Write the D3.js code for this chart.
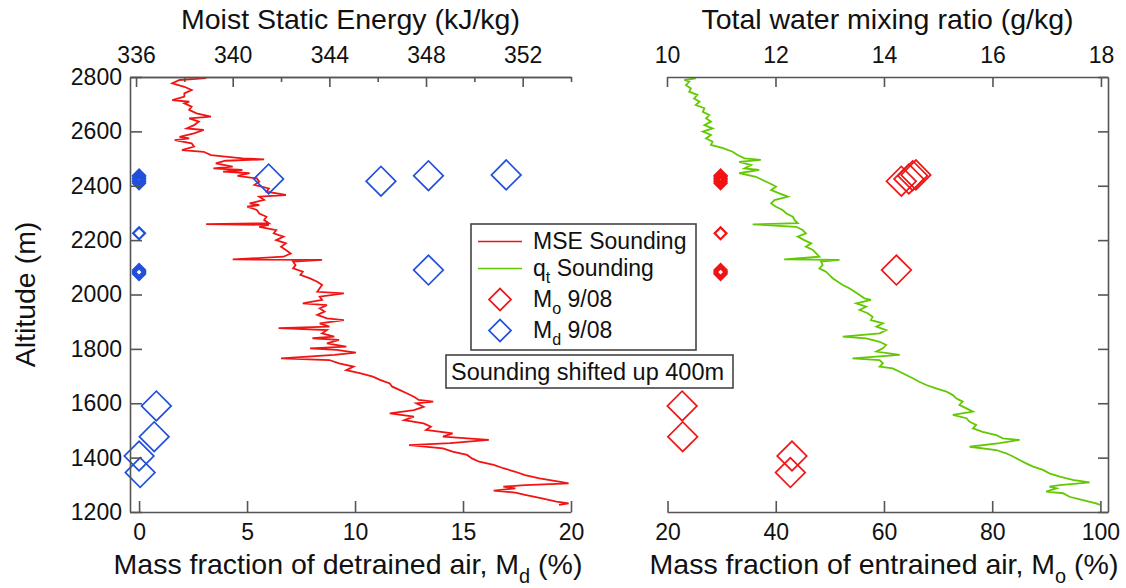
<!DOCTYPE html>
<html>
<head>
<meta charset="utf-8">
<script src="https://cdn.jsdelivr.net/npm/d3@7"></script>
<style>
  body { margin: 0; background: #fff; }
  svg { display: block; font-family: "Liberation Sans", Arial, Helvetica, sans-serif; }
</style>
</head>
<body>
<svg id="chart" width="1126" height="588"></svg>
<script>
// tick values
const altTicks = [1200, 1400, 1600, 1800, 2000, 2200, 2400, 2600, 2800];
const mseTicks = [336, 340, 344, 348, 352];
const mseMinorTicks = [338, 342, 346, 350, 354];
const mdTicks = [0, 5, 10, 15, 20];
const qtTicks = [10, 12, 14, 16, 18];
const moTicks = [20, 40, 60, 80, 100];

// aircraft points, 9/08 (big markers)
const bigAlt = [2425, 2417, 2437, 2440, 2090, 1590, 1477, 1406, 1345];
const bigMd = [6.0, 11.2, 13.4, 17.0, 13.4, 0.8, 0.7, 0.0, 0.05];
const bigMo = [64.6, 63.2, 65.3, 65.9, 62.3, 22.7, 22.8, 43.0, 42.7];

// small markers
const smallAlt = [2409, 2415, 2421, 2427, 2433, 2438, 2225, 2075, 2080, 2085, 2090];
const smallMd = [0, 0, 0, 0, 0, 0, 0, 0, 0, 0, 0];
const smallMo = [29.8, 29.8, 29.8, 29.8, 29.8, 29.8, 29.8, 29.8, 29.8, 29.8, 29.8];

// soundings [altitude m, value], shifted up 400m
const mseSounding = [
  [2800,338.4],[2796,338.9],[2789,337.8],[2777,337.5],[2764,338.0],[2752,338.3],[2740,338.0],[2728,338.0],
  [2715,337.5],[2709,338.2],[2703,338.0],[2691,338.3],[2679,338.2],[2666,338.5],[2654,339.1],[2648,338.2],
  [2636,338.6],[2623,338.4],[2611,338.1],[2605,338.8],[2593,338.4],[2580,337.8],[2574,338.2],[2568,337.6],
  [2556,338.3],[2544,338.4],[2531,337.9],[2525,338.8],[2513,339.1],[2501,340.4],[2497,341.3],[2492,339.7],
  [2482,339.3],[2470,340.0],[2464,339.2],[2458,340.4],[2452,339.6],[2446,340.7],[2436,340.2],[2427,341.0],
  [2415,341.1],[2403,340.9],[2390,341.5],[2378,341.4],[2366,342.2],[2360,341.1],[2348,341.3],[2335,340.7],
  [2329,341.1],[2323,340.6],[2311,341.0],[2298,341.1],[2286,341.4],[2274,341.3],[2262,341.5],[2259,338.9],
  [2256,341.5],[2249,341.1],[2237,341.8],[2225,341.7],[2213,342.1],[2200,341.8],[2188,342.2],[2176,342.0],
  [2164,342.2],[2151,342.4],[2139,342.1],[2129,340.0],[2127,343.7],[2121,342.5],[2108,342.6],[2096,342.5],
  [2084,342.9],[2072,342.8],[2059,343.2],[2047,343.5],[2035,343.7],[2023,343.6],[2010,343.5],[2004,344.6],
  [1992,343.6],[1980,343.7],[1967,342.9],[1961,343.9],[1949,343.6],[1937,343.8],[1925,343.5],[1912,343.9],
  [1906,344.6],[1894,343.6],[1882,344.0],[1876,341.9],[1869,343.9],[1857,343.7],[1845,344.2],[1839,343.3],
  [1833,344.4],[1820,343.9],[1808,344.7],[1802,343.2],[1796,344.3],[1786,345.1],[1778,344.2],[1765,342.0],
  [1759,344.0],[1747,344.4],[1735,345.0],[1722,344.7],[1710,345.3],[1698,345.8],[1686,346.1],[1673,346.5],
  [1661,346.6],[1649,346.9],[1637,347.2],[1624,347.5],[1612,347.7],[1606,348.3],[1600,347.6],[1587,347.9],
  [1575,347.5],[1563,346.5],[1551,347.5],[1538,347.1],[1526,347.9],[1514,348.2],[1502,348.0],[1489,349.1],
  [1477,348.7],[1465,350.6],[1453,349.0],[1446,347.3],[1434,348.7],[1422,349.1],[1410,349.7],[1397,349.9],
  [1385,350.2],[1373,350.8],[1361,351.2],[1348,351.7],[1336,352.1],[1324,352.7],[1312,353.5],[1305,353.9],
  [1299,352.1],[1293,351.2],[1287,351.7],[1279,350.8],[1271,351.7],[1263,352.1],[1250,352.8],[1238,353.4],
  [1232,353.9],[1226,353.5]
];

const qtSounding = [
  [2800,10.41],[2795,10.53],[2789,10.32],[2783,10.41],[2770,10.35],[2758,10.44],[2746,10.41],[2734,10.56],
  [2721,10.50],[2709,10.60],[2697,10.53],[2685,10.69],[2672,10.66],[2660,10.78],[2648,10.72],[2636,10.81],
  [2623,10.69],[2611,10.84],[2599,10.66],[2587,10.81],[2574,10.72],[2562,10.84],[2550,10.81],[2538,11.03],
  [2525,11.21],[2513,11.30],[2501,11.43],[2495,11.73],[2488,11.33],[2476,11.55],[2464,11.43],[2458,11.70],
  [2446,11.33],[2433,11.64],[2421,11.76],[2409,11.89],[2397,12.01],[2384,11.92],[2372,12.07],[2360,12.23],
  [2347,11.98],[2335,11.92],[2323,12.01],[2311,12.13],[2298,12.20],[2286,12.32],[2274,12.35],[2262,12.41],
  [2258,11.58],[2249,12.38],[2237,12.50],[2225,12.56],[2213,12.41],[2200,12.53],[2188,12.66],[2176,12.56],
  [2164,12.69],[2151,12.75],[2139,12.81],[2129,12.16],[2127,13.18],[2121,12.84],[2108,12.87],[2096,12.81],
  [2084,12.93],[2072,12.99],[2059,13.06],[2047,13.15],[2035,13.24],[2023,13.36],[2010,13.46],[1998,13.55],
  [1986,13.64],[1980,13.76],[1967,13.49],[1955,13.67],[1943,13.55],[1931,13.70],[1918,13.79],[1906,13.76],
  [1894,13.98],[1882,13.86],[1869,14.04],[1857,13.92],[1845,13.24],[1839,13.67],[1826,13.92],[1814,14.04],
  [1802,13.98],[1790,13.86],[1778,14.29],[1765,13.42],[1759,13.92],[1747,13.98],[1735,13.92],[1728,14.16],
  [1716,14.29],[1704,14.41],[1692,14.53],[1679,14.65],[1667,14.78],[1655,14.96],[1643,15.15],[1630,15.27],
  [1618,15.33],[1606,15.45],[1594,15.39],[1581,15.52],[1569,15.64],[1557,15.27],[1545,15.52],[1532,15.58],
  [1520,15.70],[1508,15.64],[1495,15.82],[1483,16.07],[1471,16.19],[1465,16.50],[1453,16.13],[1440,15.58],
  [1428,16.07],[1416,16.25],[1404,16.38],[1391,16.50],[1379,16.62],[1367,16.75],[1355,16.93],[1342,17.05],
  [1330,17.24],[1318,17.48],[1309,17.79],[1299,17.24],[1293,17.05],[1287,17.18],[1275,16.99],[1269,17.30],
  [1256,17.42],[1244,17.67],[1232,17.91],[1226,17.98]
];

const red = '#f01414';
const green = '#62c800';
const blue = '#2050dc';
const axisColor = '#555';

const svg = d3.select('#chart');
const plotTop = 77, plotBottom = 512;
const leftX0 = 130, leftX1 = 571, rightX0 = 667, rightX1 = 1108;

const y = d3.scaleLinear().domain([1200, 2800]).range([plotBottom, plotTop]);
const xMd = d3.scaleLinear().domain([-0.42, 20]).range([leftX0, leftX1]);
const xMse = d3.scaleLinear().domain([335.75, 354]).range([leftX0, leftX1]);
const xMo = d3.scaleLinear().domain([19.9, 101.4]).range([rightX0, rightX1]);
const xQt = d3.scaleLinear().domain([10, 18.13]).range([rightX0, rightX1]);

function styleAxis(g) {
  g.attr('font-family', null).attr('font-size', null);
  g.select('.domain').attr('stroke', axisColor).attr('stroke-width', 1.6);
  g.selectAll('.tick line').attr('stroke', axisColor).attr('stroke-width', 1.6);
  g.selectAll('.tick text').attr('fill', '#111').style('font-size', '23px');
}

// text with subscripts; shifts are in px so they cancel out exactly
function addParts(t, parts, fontSize) {
  const shift = fontSize * 0.3;
  let lowered = false;
  parts.forEach(p => {
    if (p.sub) {
      t.append('tspan').text(p.sub)
        .style('font-size', (fontSize * 0.7) + 'px')
        .attr('dy', shift);
      lowered = true;
    } else {
      const s = t.append('tspan').text(p.text);
      if (lowered) { s.attr('dy', -shift); lowered = false; }
    }
  });
}

// clip areas
const defs = svg.append('defs');
defs.append('clipPath').attr('id', 'clipLeft').append('rect')
  .attr('x', leftX0).attr('y', plotTop).attr('width', leftX1 - leftX0).attr('height', plotBottom - plotTop);
defs.append('clipPath').attr('id', 'clipRight').append('rect')
  .attr('x', rightX0).attr('y', plotTop).attr('width', rightX1 - rightX0).attr('height', plotBottom - plotTop);

// soundings
svg.append('path')
  .datum(mseSounding)
  .attr('clip-path', 'url(#clipLeft)')
  .attr('fill', 'none')
  .attr('stroke', red)
  .attr('stroke-width', 1.8)
  .attr('d', d3.line().x(d => xMse(d[1])).y(d => y(d[0])));

svg.append('path')
  .datum(qtSounding)
  .attr('clip-path', 'url(#clipRight)')
  .attr('fill', 'none')
  .attr('stroke', green)
  .attr('stroke-width', 1.8)
  .attr('d', d3.line().x(d => xQt(d[1])).y(d => y(d[0])));

// diamonds = squares turned 45 deg
const bigDiamond = d3.symbol().type(d3.symbolSquare).size(438)();
const smallDiamond = d3.symbol().type(d3.symbolSquare).size(70)();
const legendDiamond = d3.symbol().type(d3.symbolSquare).size(242)();

function drawMarkers(alts, vals, xScale, path, color, width) {
  svg.append('g').selectAll('path')
    .data(alts)
    .join('path')
    .attr('d', path)
    .attr('transform', (d, i) => `translate(${xScale(vals[i])},${y(d)}) rotate(45)`)
    .attr('fill', 'none')
    .attr('stroke', color)
    .attr('stroke-width', width);
}

drawMarkers(bigAlt, bigMd, xMd, bigDiamond, blue, 1.7);
drawMarkers(smallAlt, smallMd, xMd, smallDiamond, blue, 2.2);
drawMarkers(bigAlt, bigMo, xMo, bigDiamond, red, 1.7);
drawMarkers(smallAlt, smallMo, xMo, smallDiamond, red, 2.2);

// axes
svg.append('g').attr('transform', `translate(${leftX0},0)`)
  .call(d3.axisLeft(y).tickValues(altTicks).tickSizeInner(-12).tickSizeOuter(0).tickPadding(8).tickFormat(d3.format('d')))
  .call(styleAxis);
svg.append('g').attr('transform', `translate(${rightX1},0)`)
  .call(d3.axisRight(y).tickValues(altTicks).tickSizeInner(-10).tickSizeOuter(0).tickFormat(''))
  .call(styleAxis);

svg.append('g').attr('transform', `translate(0,${plotTop})`)
  .call(d3.axisTop(xMse).tickValues(mseMinorTicks).tickSizeInner(-5).tickSizeOuter(0).tickFormat(''))
  .call(styleAxis);
svg.append('g').attr('transform', `translate(0,${plotTop})`)
  .call(d3.axisTop(xMse).tickValues(mseTicks).tickSizeInner(-10).tickSizeOuter(0).tickPadding(14))
  .call(styleAxis);
svg.append('g').attr('transform', `translate(0,${plotBottom})`)
  .call(d3.axisBottom(xMd).tickValues(mdTicks).tickSizeInner(-11).tickSizeOuter(0).tickPadding(12))
  .call(styleAxis);

svg.append('g').attr('transform', `translate(0,${plotTop})`)
  .call(d3.axisTop(xQt).tickValues(qtTicks).tickSizeInner(-10).tickSizeOuter(0).tickPadding(14))
  .call(styleAxis);
svg.append('g').attr('transform', `translate(0,${plotBottom})`)
  .call(d3.axisBottom(xMo).tickValues(moTicks).tickSizeInner(-11).tickSizeOuter(0).tickPadding(12))
  .call(styleAxis);

// titles
function title(x, yPos, parts, rotate) {
  const fs = 28.5;
  const t = svg.append('text')
    .attr('text-anchor', 'middle')
    .attr('fill', '#111')
    .style('font-size', fs + 'px');
  if (rotate) t.attr('transform', `translate(${x},${yPos}) rotate(-90)`);
  else t.attr('x', x).attr('y', yPos);
  addParts(t, parts, fs);
  return t;
}

title((leftX0 + leftX1) / 2, 29, [{ text: 'Moist Static Energy (kJ/kg)' }]);
title((rightX0 + rightX1) / 2, 29, [{ text: 'Total water mixing ratio (g/kg)' }]);
title(348, 574, [{ text: 'Mass fraction of detrained air, M' }, { sub: 'd' }, { text: '\u00a0(%)' }]);
title(884, 574, [{ text: 'Mass fraction of entrained air, M' }, { sub: 'o' }, { text: '\u00a0(%)' }]);
title(35, (plotTop + plotBottom) / 2, [{ text: 'Altitude (m)' }], true);

// legend
const legendItems = [
  { kind: 'line', color: red, parts: [{ text: 'MSE Sounding' }] },
  { kind: 'line', color: green, parts: [{ text: 'q' }, { sub: 't' }, { text: '\u00a0Sounding' }] },
  { kind: 'marker', color: red, parts: [{ text: 'M' }, { sub: 'o' }, { text: '\u00a09/08' }] },
  { kind: 'marker', color: blue, parts: [{ text: 'M' }, { sub: 'd' }, { text: '\u00a09/08' }] }
];
const legendRowY = [241.5, 268.5, 299.5, 330.5];

const legend = svg.append('g');
legend.append('rect')
  .attr('x', 471).attr('y', 224).attr('width', 225).attr('height', 126)
  .attr('fill', '#fff').attr('stroke', '#444').attr('stroke-width', 1.6);

legendItems.forEach((item, i) => {
  const cy = legendRowY[i];
  if (item.kind === 'line') {
    legend.append('line')
      .attr('x1', 478).attr('x2', 522).attr('y1', cy).attr('y2', cy)
      .attr('stroke', item.color).attr('stroke-width', 1.6);
  } else {
    legend.append('path')
      .attr('d', legendDiamond)
      .attr('transform', `translate(500,${cy}) rotate(45)`)
      .attr('fill', 'none').attr('stroke', item.color).attr('stroke-width', 1.7);
  }
  const t = legend.append('text')
    .attr('x', 533).attr('y', cy + 7.5)
    .attr('fill', '#111')
    .style('font-size', '23px');
  addParts(t, item.parts, 23);
});

// note box
svg.append('rect')
  .attr('x', 446).attr('y', 355).attr('width', 287).attr('height', 33)
  .attr('fill', '#fff').attr('stroke', '#444').attr('stroke-width', 1.6);
svg.append('text')
  .attr('x', 451).attr('y', 380)
  .attr('fill', '#111')
  .style('font-size', '23.5px')
  .text('Sounding shifted up 400m');
</script>
</body>
</html>
